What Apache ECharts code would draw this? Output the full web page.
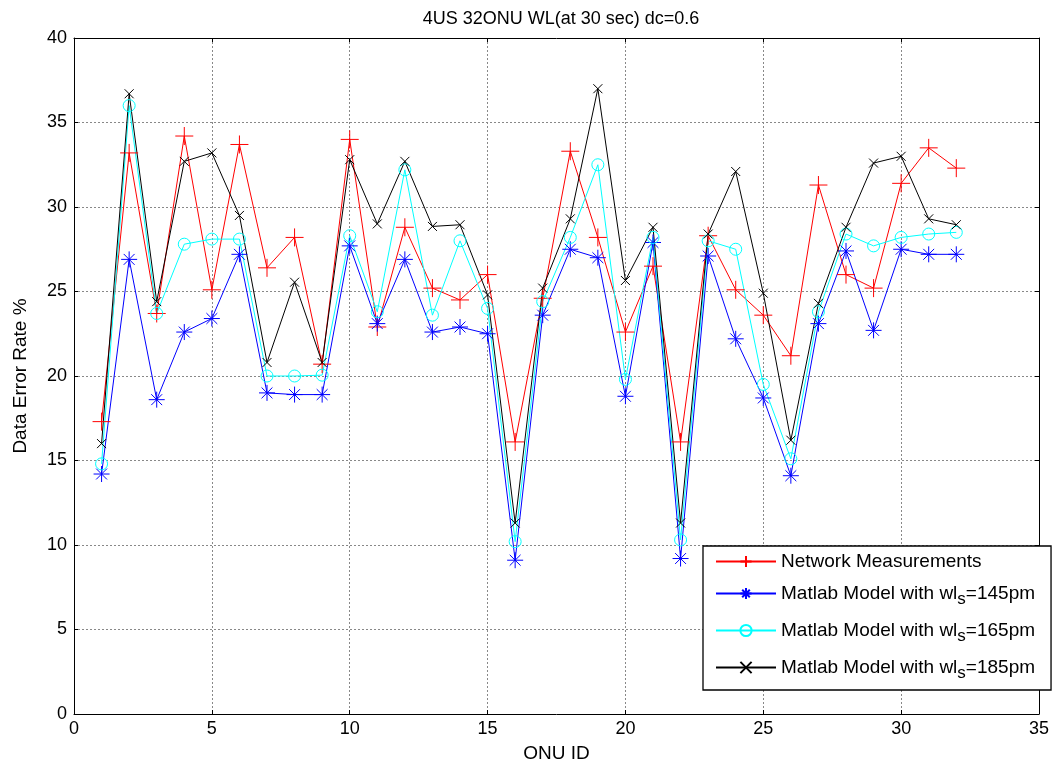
<!DOCTYPE html>
<html>
<head>
<meta charset="utf-8">
<script src="https://cdn.jsdelivr.net/npm/echarts@6/dist/echarts.min.js"></script>
<style>html,body{margin:0;padding:0;background:#fff;}#c{width:1055px;height:763px;}</style>
</head>
<body>
<div id="c"></div>
<script>
const onuIds = [1,2,3,4,5,6,7,8,9,10,11,12,13,14,15,16,17,18,19,20,21,22,23,24,25,26,27,28,29,30,31,32];
const networkMeas = [17.3,33.2,23.7,34.2,25.1,33.7,26.4,28.2,20.7,34.0,22.9,28.8,25.2,24.5,26.0,16.1,24.6,33.3,28.2,22.6,26.5,16.1,28.3,25.1,23.6,21.2,31.3,26.0,25.2,31.4,33.5,32.3];
const model145 = [14.2,26.9,18.6,22.6,23.4,27.2,19.0,18.9,18.9,27.7,23.1,26.9,22.6,22.9,22.5,9.1,23.6,27.5,27.0,18.8,27.9,9.2,27.1,22.2,18.7,14.1,23.1,27.4,22.7,27.5,27.2,27.2];
const model165 = [14.8,36.0,23.7,27.8,28.1,28.1,20.0,20.0,20.05,28.3,23.8,32.2,23.6,28.0,24.0,10.2,24.4,28.2,32.5,19.8,28.2,10.3,28.0,27.5,19.5,15.1,23.8,28.4,27.7,28.2,28.4,28.5];
const model185 = [16.0,36.7,24.4,32.7,33.2,29.5,20.8,25.55,20.8,32.8,29.0,32.7,28.85,28.95,24.8,11.3,25.2,29.3,37.0,25.65,28.8,11.3,28.4,32.1,24.9,16.2,24.3,28.8,32.6,33.0,29.3,28.95];
const xTicks = [0,5,10,15,20,25,30,35];
const yTicks = [0,5,10,15,20,25,30,35,40];
const seriesNames = ['Network Measurements','Matlab Model with wl_s=145pm','Matlab Model with wl_s=165pm','Matlab Model with wl_s=185pm'];

const pair = arr => arr.map((v,i)=>[onuIds[i], v]);
const plusPath = 'path://M0,5L10,5M5,0L5,10';
const starPath = 'path://M0,5L10,5M5,0L5,10M1.6,1.6L8.4,8.4M1.6,8.4L8.4,1.6';
const xPath = 'path://M0,0L10,10M0,10L10,0';

function mk(name, data, color, symbol, size){
  return {
    name: name, type: 'line', data: pair(data), symbol: symbol, symbolSize: size,
    showAllSymbol: true,
    lineStyle: {color: color, width: 1},
    itemStyle: {color: 'none', borderColor: color, borderWidth: 1},
    emphasis: {disabled: true}, xAxisIndex: 0, yAxisIndex: 0, z: 3
  };
}

const chart = echarts.init(document.getElementById('c'), null, {renderer: 'canvas'});
const font = 'Liberation Sans, Arial, Helvetica, sans-serif';
const option = {
  animation: false,
  backgroundColor: '#fff',
  textStyle: {fontFamily: font},
  title: {
    text: '4US 32ONU WL(at 30 sec) dc=0.6', left: 556, top: 5, textAlign: 'center',
    textStyle: {fontSize: 18, fontWeight: 'normal', color: '#000', fontFamily: font}
  },
  grid: {left: 74, right: 16, top: 38, bottom: 49, containLabel: false, outerBoundsMode: 'none'},
  xAxis: [{
    type: 'value', min: 0, max: 35, interval: 5,
    name: 'ONU ID', nameLocation: 'middle', nameGap: 30,
    nameTextStyle: {fontSize: 19, color: '#000', fontFamily: font},
    axisLine: {show: true, onZero: false, lineStyle: {color: '#000', width: 1}},
    axisTick: {show: true, inside: true, length: 4, lineStyle: {color: '#000'}},
    axisLabel: {fontSize: 18, color: '#000', margin: 6, fontFamily: font},
    splitLine: {show: true, lineStyle: {color: '#888', type: [2,2], width: 1}}
  },{
    type: 'value', min: 0, max: 35, interval: 5, position: 'top',
    axisLine: {show: true, onZero: false, lineStyle: {color: '#000', width: 1}},
    axisTick: {show: true, inside: true, length: 4, lineStyle: {color: '#000'}},
    axisLabel: {show: false}, splitLine: {show: false}
  }],
  yAxis: [{
    type: 'value', min: 0, max: 40, interval: 5,
    name: 'Data Error Rate %', nameLocation: 'middle', nameGap: 44, nameRotate: 90,
    nameTextStyle: {fontSize: 19, color: '#000', fontFamily: font},
    axisLine: {show: true, onZero: false, lineStyle: {color: '#000', width: 1}},
    axisTick: {show: true, inside: true, length: 4, lineStyle: {color: '#000'}},
    axisLabel: {fontSize: 18, color: '#000', margin: 7, fontFamily: font},
    splitLine: {show: true, lineStyle: {color: '#888', type: [2,2], width: 1}}
  },{
    type: 'value', min: 0, max: 40, interval: 5, position: 'right',
    axisLine: {show: true, onZero: false, lineStyle: {color: '#000', width: 1}},
    axisTick: {show: true, inside: true, length: 4, lineStyle: {color: '#000'}},
    axisLabel: {show: false}, splitLine: {show: false}
  }],
  legend: {
    orient: 'vertical', left: 703, top: 546,
    backgroundColor: '#fff', borderColor: '#000', borderWidth: 1.3,
    padding: [6, 16, 8, 12], itemGap: 13, itemWidth: 60, itemHeight: 14,
    selectedMode: false,
    formatter: function(n){ return n.replace('wl_s', 'wl{sub|s}'); },
    textStyle: {fontSize: 19, color: '#000', fontFamily: font, padding: [0,0,0,0],
      rich: {sub: {fontSize: 17, verticalAlign: 'bottom', padding: [12,0,0,0], color: '#000', fontFamily: font}}},
    data: seriesNames
  },
  series: [
    mk(seriesNames[0], networkMeas, '#ff0000', plusPath, 18),
    mk(seriesNames[1], model145, '#0000ff', starPath, 16),
    mk(seriesNames[2], model165, '#00ffff', 'circle', 12),
    mk(seriesNames[3], model185, '#000000', xPath, 9)
  ]
};
chart.setOption(option);
</script>
</body>
</html>
